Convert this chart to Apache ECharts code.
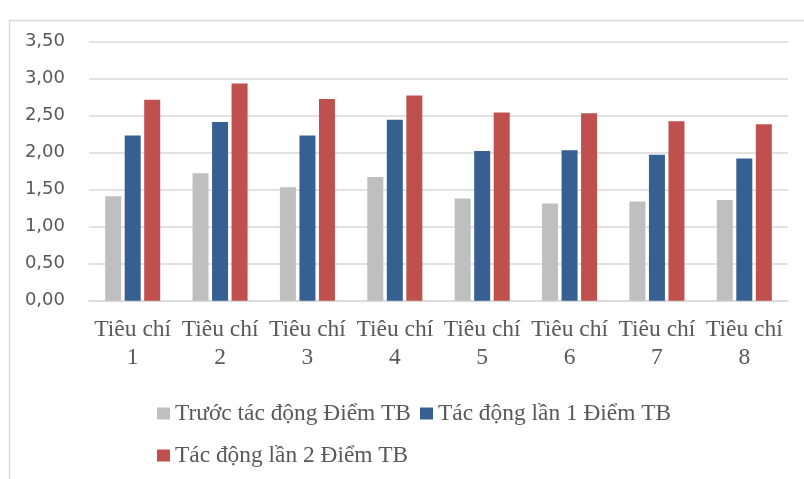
<!DOCTYPE html>
<html>
<head>
<meta charset="utf-8">
<script src="https://cdn.jsdelivr.net/npm/echarts@6/dist/echarts.min.js"></script>
<style>
  html, body { margin: 0; padding: 0; background: #fff; }
  #chart { width: 804px; height: 479px; }
</style>
</head>
<body>
<div id="chart"></div>
<script>
// Criteria on the x axis
const categories = ['Tiêu chí\n1', 'Tiêu chí\n2', 'Tiêu chí\n3', 'Tiêu chí\n4',
                    'Tiêu chí\n5', 'Tiêu chí\n6', 'Tiêu chí\n7', 'Tiêu chí\n8'];

// Average scores per stage
const seriesNames = ['Trước tác động Điểm TB', 'Tác động lần 1 Điểm TB', 'Tác động lần 2 Điểm TB'];
const before = [1.41, 1.72, 1.53, 1.67, 1.38, 1.31, 1.34, 1.36];
const round1 = [2.23, 2.41, 2.23, 2.44, 2.02, 2.03, 1.97, 1.92];
const round2 = [2.71, 2.93, 2.72, 2.77, 2.54, 2.53, 2.42, 2.38];

// Y axis scale
const yMin = 0, yMax = 3.5, yStep = 0.5;

const colors = ['#BFBFBF', '#376092', '#C0504D'];
const serif = '"Liberation Serif", "Times New Roman", serif';
const sans = '"DejaVu Sans", sans-serif';

const chart = echarts.init(document.getElementById('chart'), null, { renderer: 'canvas' });

const legendText = { fontFamily: serif, fontSize: 23.4, color: '#595959' };

chart.setOption({
  animation: false,
  color: colors,
  graphic: [{
    type: 'rect',
    left: 7, top: 18,
    shape: { width: 830, height: 500 },
    style: { fill: 'none', stroke: '#D9D9D9', lineWidth: 1.5 },
    silent: true
  }],
  grid: { left: 89, right: 16, top: 41.3, bottom: 178.3, containLabel: false },
  legend: [
    {
      data: [seriesNames[0], seriesNames[1]],
      left: 152, top: 397,
      icon: 'rect', itemWidth: 13, itemHeight: 12, itemGap: 9,
      textStyle: legendText
    },
    {
      data: [seriesNames[2]],
      left: 152, top: 439,
      icon: 'rect', itemWidth: 13, itemHeight: 12,
      textStyle: legendText
    }
  ],
  xAxis: {
    type: 'category',
    data: categories,
    axisLine: { show: true, lineStyle: { color: '#D9D9D9', width: 1.5 } },
    axisTick: { show: false },
    axisLabel: {
      interval: 0,
      margin: 15,
      fontFamily: serif,
      fontSize: 23.5,
      lineHeight: 28,
      color: '#595959'
    }
  },
  yAxis: {
    type: 'value',
    min: yMin, max: yMax, interval: yStep,
    axisLine: { show: false },
    axisTick: { show: false },
    splitLine: { lineStyle: { color: '#D9D9D9', width: 1.5 } },
    axisLabel: {
      margin: 24,
      fontFamily: sans,
      fontSize: 18,
      color: '#595959',
      formatter: v => v.toFixed(2).replace('.', ',')
    }
  },
  series: [
    { name: seriesNames[0], type: 'bar', data: before, barWidth: 16, barGap: '22%' },
    { name: seriesNames[1], type: 'bar', data: round1, barWidth: 16, barGap: '22%' },
    { name: seriesNames[2], type: 'bar', data: round2, barWidth: 16, barGap: '22%' }
  ]
});
</script>
</body>
</html>
